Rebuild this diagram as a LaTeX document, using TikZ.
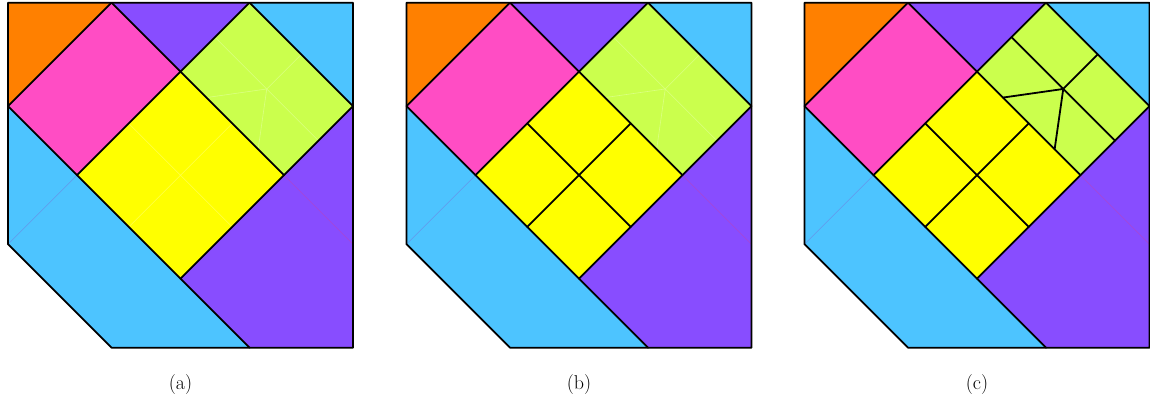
\documentclass[tikz,border=0pt]{standalone}
\definecolor{cOrange}{RGB}{255,128,0}
\definecolor{cPurple}{RGB}{136,77,255}
\definecolor{cPink}{RGB}{255,77,196}
\definecolor{cBlue}{RGB}{77,196,255}
\definecolor{cGreen}{RGB}{203,255,77}
\definecolor{cYellow}{RGB}{255,255,0}
\definecolor{cBlueSeam}{RGB}{100,150,235}
\definecolor{cPurpleSeam}{RGB}{170,70,210}
\tikzset{
  edge/.style={line width=1.8pt, line join=round, line cap=round, black},
  faint/.style={line width=0.6pt, white, opacity=0.3},
  seam/.style={line width=0.6pt},
  captext/.style={font=\fontsize{20}{24}\selectfont, inner sep=0pt}
}
\begin{document}
\begin{tikzpicture}[x=1pt,y=-1pt]
\useasboundingbox (0,0) rectangle (1150,401);
\foreach \X/\lab/\mode in {8/a/0, 406.5/b/1, 804.5/c/2} {
  \begin{scope}[shift={(\X pt,-2.7pt)}, x=34.5pt, y=-34.5pt]
    % pieces
    \fill[cOrange] (0,0) -- (3,0) -- (0,3) -- cycle;
    \fill[cPurple] (3,0) -- (7,0) -- (5,2) -- cycle;
    \fill[cBlue] (7,0) -- (10,0) -- (10,3) -- cycle;
    \fill[cPink] (3,0) -- (5,2) -- (2,5) -- (0,3) -- cycle;
    \fill[cGreen] (7,0) -- (10,3) -- (8,5) -- (5,2) -- cycle;
    \fill[cYellow] (5,2) -- (8,5) -- (5,8) -- (2,5) -- cycle;
    \fill[cBlue] (0,3) -- (2,5) -- (5,8) -- (7,10) -- (3,10) -- (0,7) -- cycle;
    \fill[cPurple] (10,3) -- (10,10) -- (7,10) -- (5,8) -- (8,5) -- cycle;
    % seams between pieces of one colour
    \draw[seam, cBlueSeam] (2,5) -- (0,7);
    \draw[seam, cPurpleSeam] (8,5) -- (10,7);
    % yellow subdivision
    \ifnum\mode>0
      \draw[edge] (3.5,3.5) -- (6.5,6.5) (6.5,3.5) -- (3.5,6.5);
    \else
      \draw[faint] (3.5,3.5) -- (6.5,6.5) (6.5,3.5) -- (3.5,6.5);
    \fi
    % green subdivision
    \ifnum\mode>1
      \draw[edge] (6,1) -- (9,4) (8.5,1.5) -- (7.5,2.5)
                  (5.75,2.75) -- (7.5,2.5) -- (7.25,4.25);
    \else
      \draw[faint] (6,1) -- (9,4) (8.5,1.5) -- (7.5,2.5)
                   (5.75,2.75) -- (7.5,2.5) -- (7.25,4.25);
    \fi
    % piece edges
    \draw[edge] (3,0) -- (0,3) -- (2,5) -- (5,8) -- (7,10);
    \draw[edge] (3,0) -- (5,2) -- (7,0);
    \draw[edge] (7,0) -- (10,3) -- (8,5) -- (5,8);
    \draw[edge] (2,5) -- (5,2) -- (8,5);
    % outline
    \draw[edge] (0,0) -- (10,0) -- (10,10) -- (3,10) -- (0,7) -- cycle;
  \end{scope}
  \node[captext, anchor=base] (cap\lab) at (\X+172.5, 389) {(\lab)};
}
\end{tikzpicture}
\end{document}
